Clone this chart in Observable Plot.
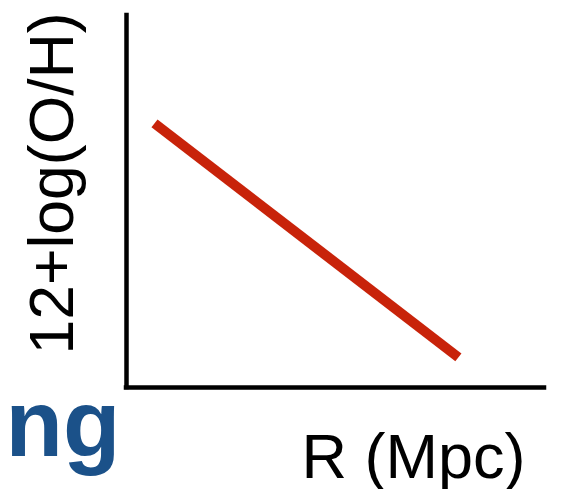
<!DOCTYPE html>
<html>
<head>
<meta charset="utf-8">
<script src="https://cdn.jsdelivr.net/npm/d3@7"></script>
<script src="https://cdn.jsdelivr.net/npm/@observablehq/plot@0.6"></script>
<style>
  html, body { margin: 0; padding: 0; background: #ffffff; }
  #chart { width: 566px; height: 489px; overflow: hidden; }
</style>
</head>
<body>
<div id="chart"></div>
<script>
// Schematic gradient line (values in arbitrary units)
const R = [0.67, 7.94];
const OH = [7.10, 0.81];
const xLabel = "R (Mpc)";
const yLabel = "12+log(O/H)";
const cornerText = "ng";

const lineData = R.map((r, i) => ({R: r, OH: OH[i]}));
const font = "'Liberation Sans', Arial, Helvetica, sans-serif";

const chart = Plot.plot({
  width: 566,
  height: 489,
  marginLeft: 126,
  marginRight: 22,
  marginTop: 15,
  marginBottom: 102,
  x: {domain: [0, 10], axis: null},
  y: {domain: [0, 10], axis: null},
  style: {background: "#ffffff", fontFamily: font, overflow: "visible"},
  marks: [
    Plot.ruleX([0], {stroke: "#000", strokeWidth: 4.5, strokeLinecap: "square"}),
    Plot.ruleY([0], {stroke: "#000", strokeWidth: 4.5, strokeLinecap: "square"}),
    Plot.line(lineData, {x: "R", y: "OH", stroke: "#c8230a", strokeWidth: 10, strokeLinecap: "butt"}),
    Plot.text([yLabel], {
      frameAnchor: "left", rotate: -90, textAnchor: "middle", lineAnchor: "bottom",
      dx: -54, dy: -18, fontSize: 62.5, fill: "#000", fontFamily: font
    }),
    Plot.text([xLabel], {
      frameAnchor: "bottom-left", textAnchor: "start", lineAnchor: "bottom",
      dx: 175, dy: 90, fontSize: 63, fill: "#000", fontFamily: font
    }),
    Plot.text([cornerText], {
      frameAnchor: "bottom-left", textAnchor: "start", lineAnchor: "bottom",
      dx: -121, dy: 68, fontSize: 94, fontWeight: "bold", fill: "#1b5189", fontFamily: font
    })
  ]
});
document.getElementById("chart").appendChild(chart);
</script>
</body>
</html>
